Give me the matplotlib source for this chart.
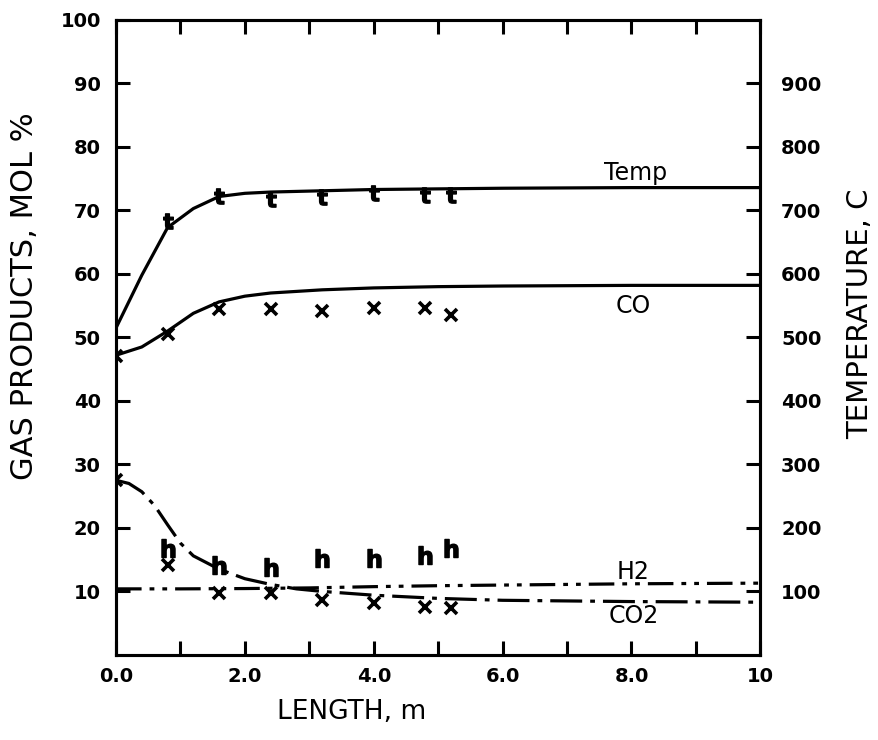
import matplotlib
matplotlib.use("Agg")
import matplotlib.pyplot as plt

# ---- data ----
# model curves (left axis, mol %)
curve_x = [0, 0.4, 0.8, 1.2, 1.6, 2.0, 2.4, 3.2, 4.0, 5.0, 6.0, 8.0, 10.0]
co_curve = [47.2, 48.5, 51.0, 53.8, 55.6, 56.5, 57.0, 57.5, 57.8, 58.0, 58.1, 58.2, 58.2]
temp_curve = [515, 598, 673, 703, 722, 727, 729, 731, 733, 734, 735, 736, 736]  # deg C

co2_x = [0, 0.2, 0.4, 0.6, 0.8, 1.0, 1.2, 1.6, 2.0, 2.4, 2.8, 3.2, 4.0, 5.0, 6.0, 8.0, 10.0]
co2_curve = [27.5, 27.0, 25.7, 23.5, 20.5, 17.6, 15.6, 13.5, 12.0, 11.1, 10.4, 10.0, 9.4, 8.9, 8.6, 8.4, 8.3]

h2_x = [0, 1, 2, 3, 4, 5, 6, 8, 10]
h2_curve = [10.4, 10.4, 10.45, 10.55, 10.75, 10.9, 11.0, 11.2, 11.3]

# measured points
co_px = [0, 0.8, 1.6, 2.4, 3.2, 4.0, 4.8, 5.2]
co_pts = [47.1, 50.5, 54.5, 54.5, 54.2, 54.7, 54.7, 53.5]
co2_px = [0, 0.8, 1.6, 2.4, 3.2, 4.0, 4.8, 5.2]
co2_pts = [27.5, 14.2, 9.7, 9.7, 8.7, 8.2, 7.6, 7.4]
h2_px = [0.8, 1.6, 2.4, 3.2, 4.0, 4.8, 5.2]
h2_pts = [16.8, 14.2, 13.9, 15.2, 15.2, 15.8, 16.8]
temp_px = [0.8, 1.6, 2.4, 3.2, 4.0, 4.8, 5.2]
temp_pts = [683, 723, 718, 721, 727, 724, 724]  # deg C

x_ticks = [0, 2, 4, 6, 8, 10]
x_ticklabels = ["0.0", "2.0", "4.0", "6.0", "8.0", "10"]
left_ticks = [10, 20, 30, 40, 50, 60, 70, 80, 90, 100]
right_ticks = [100, 200, 300, 400, 500, 600, 700, 800, 900]

# ---- figure ----
W, H = 879, 740
fig = plt.figure(figsize=(W / 100, H / 100), dpi=100)
ax = fig.add_axes([0.132, 0.115, 0.733, 0.858])
ax2 = ax.twinx()

ax.set_xlim(0, 10)
ax.set_ylim(0, 100)
ax2.set_ylim(0, 1000)

lw = 2.3
ax.plot(curve_x, co_curve, color="black", lw=lw)
ax2.plot(curve_x, temp_curve, color="black", lw=lw)
ax.plot(co2_x, co2_curve, color="black", lw=lw, dashes=(10, 2.5, 1.5, 2.5))
ax.plot(h2_x, h2_curve, color="black", lw=lw, dashes=(8, 2.5, 1.5, 2.5, 1.5, 2.5))

ax.plot(co_px, co_pts, ls="none", marker="x", ms=9, mew=2.6, color="black")
ax.plot(co2_px, co2_pts, ls="none", marker="x", ms=9, mew=2.6, color="black")
ax.plot(h2_px, h2_pts, ls="none", marker=r"$\mathbf{h}$", ms=13, color="black")
ax2.plot(temp_px, temp_pts, ls="none", marker=r"$\mathbf{t}$", ms=11, color="black")

# curve labels
lab_font = dict(fontsize=17, color="black", ha="center", va="center")
ax.text(8.06, 75.9, "Temp", **lab_font)
ax.text(8.03, 55.0, "CO", **lab_font)
ax.text(8.03, 13.0, "H2", **lab_font)
ax.text(8.03, 6.2, "CO2", **lab_font)

# ticks
tick_kw = dict(direction="in", length=10, width=2.2, labelsize=14)
ax.set_xticks(range(0, 11))
ax.set_xticklabels([x_ticklabels[x_ticks.index(i)] if i in x_ticks else "" for i in range(0, 11)],
                   fontweight="bold")
ax.set_yticks(left_ticks)
ax.set_yticklabels([str(v) for v in left_ticks], fontweight="bold")
ax2.set_yticks(right_ticks)
ax2.set_yticklabels([str(v) for v in right_ticks], fontweight="bold")
ax.tick_params(axis="x", top=True, pad=9, **tick_kw)
ax.tick_params(axis="y", pad=11, **tick_kw)
ax2.tick_params(axis="y", pad=15, **tick_kw)

for a in (ax, ax2):
    for s in a.spines.values():
        s.set_linewidth(2.2)

# axis titles placed by centre (pixel positions of the reference)
fig.text(352 / W, 1 - 712 / H, "LENGTH, m", fontsize=19, ha="center", va="center")
fig.text(25 / W, 1 - 296 / H, "GAS PRODUCTS, MOL %", fontsize=22, rotation=90,
         ha="center", va="center")
fig.text(860 / W, 1 - 314 / H, "TEMPERATURE, C", fontsize=21, rotation=90,
         ha="center", va="center")

fig.savefig("out.png", dpi=100)
